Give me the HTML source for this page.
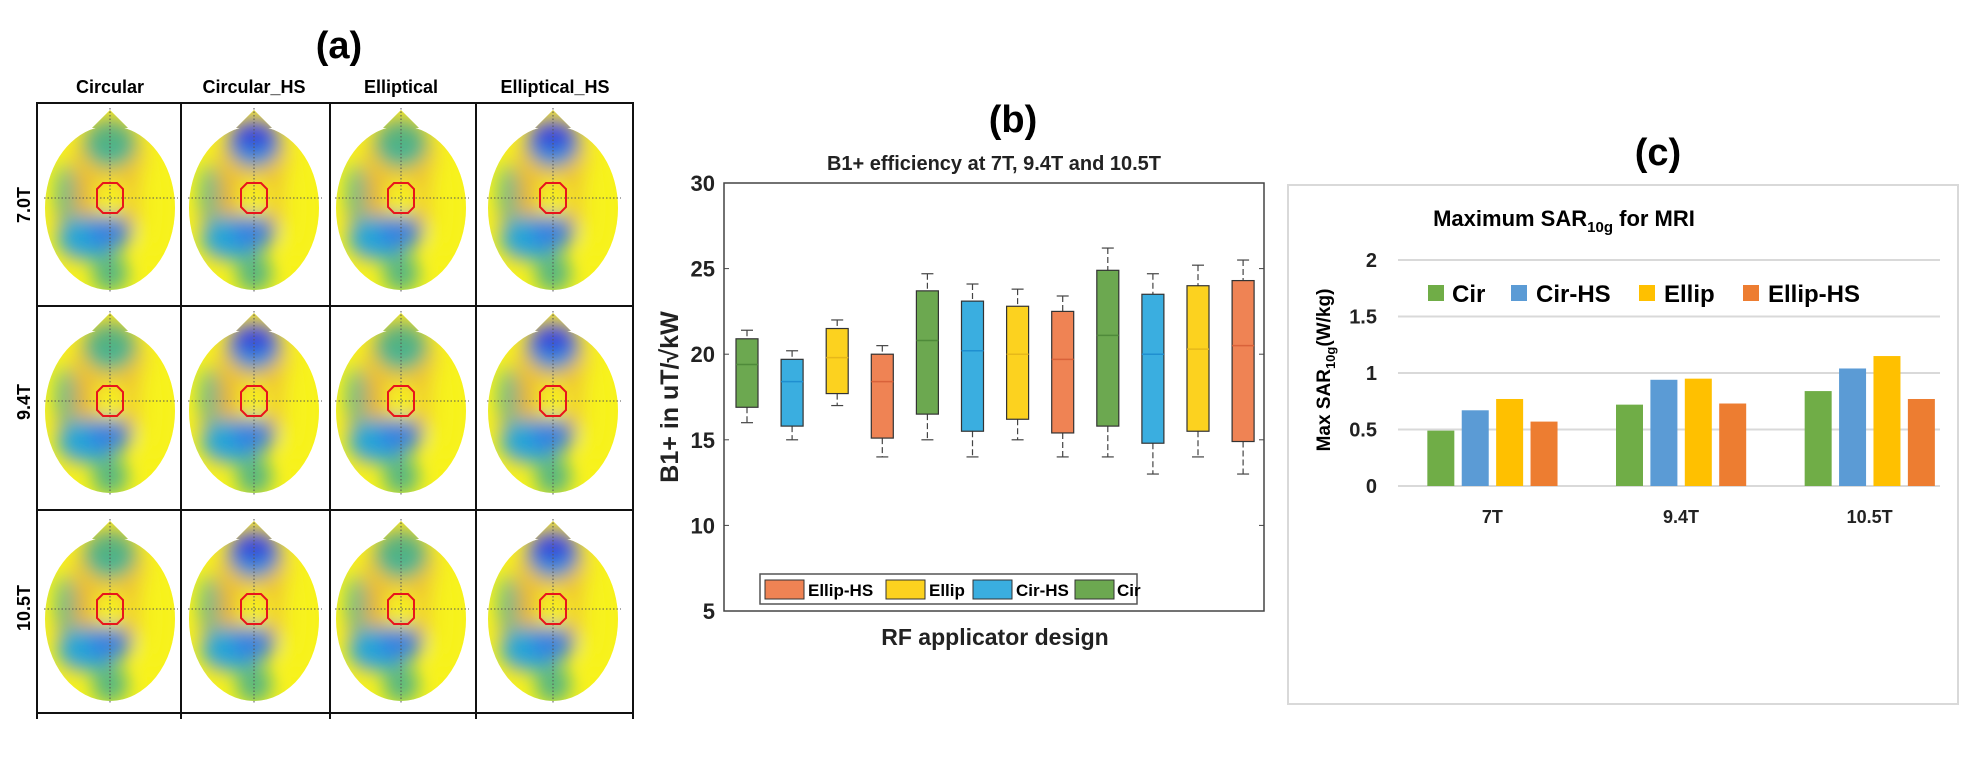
<!DOCTYPE html>
<html><head><meta charset="utf-8"><style>
html,body{margin:0;padding:0;background:#fff;}
svg{display:block;font-family:"Liberation Sans",sans-serif;}
</style></head><body>
<svg id="fig" width="1986" height="769" viewBox="0 0 1986 769" xmlns="http://www.w3.org/2000/svg">
<defs>
<filter id="blur" x="-50%" y="-50%" width="200%" height="200%"><feGaussianBlur stdDeviation="9"/></filter>
</defs>
<!-- Panel A -->
<g id="panelA">
<text x="339" y="58" font-size="38" font-weight="bold" text-anchor="middle">(a)</text>
<text x="110" y="93" font-size="18" font-weight="bold" text-anchor="middle">Circular</text>
<text x="254" y="93" font-size="18" font-weight="bold" text-anchor="middle">Circular_HS</text>
<text x="401" y="93" font-size="18" font-weight="bold" text-anchor="middle">Elliptical</text>
<text x="555" y="93" font-size="18" font-weight="bold" text-anchor="middle">Elliptical_HS</text>
<text transform="translate(30,205) rotate(-90)" font-size="18" font-weight="bold" text-anchor="middle">7.0T</text>
<text transform="translate(30,402) rotate(-90)" font-size="18" font-weight="bold" text-anchor="middle">9.4T</text>
<text transform="translate(30,608) rotate(-90)" font-size="18" font-weight="bold" text-anchor="middle">10.5T</text>
<g id="heads"></g>
<g stroke="#111" stroke-width="2" fill="none">
<rect x="37" y="103" width="596" height="610"/>
<line x1="181" y1="103" x2="181" y2="719"/><line x1="330" y1="103" x2="330" y2="719"/><line x1="476" y1="103" x2="476" y2="719"/>
<line x1="37" y1="306" x2="633" y2="306"/><line x1="37" y1="510" x2="633" y2="510"/>
<line x1="37" y1="713" x2="37" y2="719"/><line x1="633" y1="713" x2="633" y2="719"/>
</g>
</g>
<!-- Panel B -->
<g id="panelB">
<text x="1013" y="132" font-size="38" font-weight="bold" text-anchor="middle">(b)</text>
<text x="994" y="170" font-size="20" font-weight="bold" text-anchor="middle" fill="#222">B1+ efficiency at 7T, 9.4T and 10.5T</text>
<rect x="724" y="183" width="540" height="428" fill="#fff" stroke="#444" stroke-width="1.5"/>
<g id="bTicks"></g>
<g id="bBoxes"></g>
<text transform="translate(678,397) rotate(-90)" font-size="25" font-weight="bold" text-anchor="middle" fill="#222">B1+ in  uT/√kW</text>
<text x="995" y="645" font-size="23" font-weight="bold" text-anchor="middle" fill="#222">RF applicator design</text>
<g>
<rect x="760" y="574" width="377" height="30" fill="#fff" stroke="#555" stroke-width="1.5"/>
<rect x="765" y="580" width="39" height="19" fill="#ef8354" stroke="#333"/>
<text x="808" y="596" font-size="17" font-weight="bold">Ellip-HS</text>
<rect x="886" y="580" width="39" height="19" fill="#fcd21f" stroke="#333"/>
<text x="929" y="596" font-size="17" font-weight="bold">Ellip</text>
<rect x="973" y="580" width="39" height="19" fill="#3aaee0" stroke="#333"/>
<text x="1016" y="596" font-size="17" font-weight="bold">Cir-HS</text>
<rect x="1075" y="580" width="39" height="19" fill="#6ca850" stroke="#333"/>
<text x="1117" y="596" font-size="17" font-weight="bold">Cir</text>
</g>
</g>
<!-- Panel C -->
<g id="panelC">
<text x="1658" y="165" font-size="38" font-weight="bold" text-anchor="middle">(c)</text>
<rect x="1288" y="185" width="670" height="519" fill="#fff" stroke="#d9d9d9" stroke-width="2"/>
<text x="1564" y="226" font-size="22" font-weight="bold" text-anchor="middle">Maximum SAR<tspan font-size="15" dy="6">10g</tspan><tspan dy="-6"> for MRI</tspan></text>
<g id="cGrid"></g>
<g id="cBars"></g>
<text transform="translate(1330,370) rotate(-90)" font-size="19" font-weight="bold" text-anchor="middle">Max  SAR<tspan font-size="13" dy="5">10g</tspan><tspan dy="-5">(W/kg)</tspan></text>
<g>
<rect x="1428" y="285" width="16" height="16" fill="#70ad47"/>
<text x="1452" y="302" font-size="24" font-weight="bold">Cir</text>
<rect x="1511" y="285" width="16" height="16" fill="#5b9bd5"/>
<text x="1536" y="302" font-size="24" font-weight="bold">Cir-HS</text>
<rect x="1639" y="285" width="16" height="16" fill="#ffc000"/>
<text x="1664" y="302" font-size="24" font-weight="bold">Ellip</text>
<rect x="1743" y="285" width="16" height="16" fill="#ed7d31"/>
<text x="1768" y="302" font-size="24" font-weight="bold">Ellip-HS</text>
</g>
</g>
</svg>
<script>
// ---- Panel B data ----
const bCategories = ["Cir 7T","Cir-HS 7T","Ellip 7T","Ellip-HS 7T","Cir 9.4T","Cir-HS 9.4T","Ellip 9.4T","Ellip-HS 9.4T","Cir 10.5T","Cir-HS 10.5T","Ellip 10.5T","Ellip-HS 10.5T"];
const bDesign = ["Cir","Cir-HS","Ellip","Ellip-HS","Cir","Cir-HS","Ellip","Ellip-HS","Cir","Cir-HS","Ellip","Ellip-HS"];
const bWhiskerHigh = [21.4,20.2,22.0,20.5,24.7,24.1,23.8,23.4,26.2,24.7,25.2,25.5];
const bQ3 = [20.9,19.7,21.5,20.0,23.7,23.1,22.8,22.5,24.9,23.5,24.0,24.3];
const bMedian = [19.4,18.4,19.8,18.4,20.8,20.2,20.0,19.7,21.1,20.0,20.3,20.5];
const bQ1 = [16.9,15.8,17.7,15.1,16.5,15.5,16.2,15.4,15.8,14.8,15.5,14.9];
const bWhiskerLow = [16,15,17,14,15,14,15,14,14,13,14,13];
const bTickValues = [5,10,15,20,25,30];
// ---- Panel C data ----
const cCategories = ["7T","9.4T","10.5T"];
const cSeriesNames = ["Cir","Cir-HS","Ellip","Ellip-HS"];
const cCir = [0.49,0.72,0.84];
const cCirHS = [0.67,0.94,1.04];
const cEllip = [0.77,0.95,1.15];
const cEllipHS = [0.57,0.73,0.77];
const cTickValues = [0,0.5,1,1.5,2];
const cTickLabels = ["0","0.5","1","1.5","2"];

const NS="http://www.w3.org/2000/svg";
function mk(tag,attrs,parent){const e=document.createElementNS(NS,tag);for(const k in attrs)e.setAttribute(k,attrs[k]);parent.appendChild(e);return e;}

// Panel B scales
const bTop=183,bBot=611,bMin=5,bMax=30,bLeft=724,bRight=1264;
function by(v){return bBot-(v-bMin)/(bMax-bMin)*(bBot-bTop);}
function bx(i){return 747+i*45.1;}
const bFill={"Cir":"#6ca850","Cir-HS":"#3aaee0","Ellip":"#fcd21f","Ellip-HS":"#ef8354"};
const bMed={"Cir":"#4f8a3a","Cir-HS":"#1f8fd0","Ellip":"#e6b81a","Ellip-HS":"#d9623a"};
const bt=document.getElementById('bTicks');
bTickValues.forEach(v=>{
  const t=mk('text',{x:715,y:by(v)+8,'font-size':22,'font-weight':'bold','text-anchor':'end',fill:'#222'},bt);
  t.textContent=v;
  
  
  const l=mk('line',{x1:bLeft,x2:bLeft+5,y1:by(v),y2:by(v),stroke:'#444','stroke-width':1},bt);
  
  
  const r=mk('line',{x1:bRight-5,x2:bRight,y1:by(v),y2:by(v),stroke:'#444','stroke-width':1},bt);
  
  
});
const bb=document.getElementById('bBoxes');
bCategories.forEach((c,i)=>{
  const g=mk('g',{},bb);
  
  
  const cx=bx(i),w=22,d=bDesign[i];
  mk('line',{x1:cx,x2:cx,y1:by(bWhiskerHigh[i]),y2:by(bQ3[i]),stroke:'#444','stroke-width':1.2,'stroke-dasharray':'6,3'},g);
  mk('line',{x1:cx,x2:cx,y1:by(bQ1[i]),y2:by(bWhiskerLow[i]),stroke:'#444','stroke-width':1.2,'stroke-dasharray':'6,3'},g);
  mk('line',{x1:cx-6,x2:cx+6,y1:by(bWhiskerHigh[i]),y2:by(bWhiskerHigh[i]),stroke:'#444','stroke-width':1.2},g);
  mk('line',{x1:cx-6,x2:cx+6,y1:by(bWhiskerLow[i]),y2:by(bWhiskerLow[i]),stroke:'#444','stroke-width':1.2},g);
  mk('rect',{x:cx-w/2,y:by(bQ3[i]),width:w,height:by(bQ1[i])-by(bQ3[i]),fill:bFill[d],stroke:'#333','stroke-width':1.2},g);
  mk('line',{x1:cx-w/2,x2:cx+w/2,y1:by(bMedian[i]),y2:by(bMedian[i]),stroke:bMed[d],'stroke-width':1.5},g);
});

// Panel C scales
const cZero=486,cPerUnit=113,cLeft=1398,cRight=1964,cGridEnd=1940;
function cy(v){return cZero-v*cPerUnit;}
const cBand=(cRight-cLeft)/cCategories.length;
const cg=document.getElementById('cGrid');
cTickValues.forEach((v,i)=>{
  const l=mk('line',{x1:cLeft,x2:cGridEnd,y1:cy(v),y2:cy(v),stroke:'#d9d9d9','stroke-width':2},cg);
  
  
  const t=mk('text',{x:1377,y:cy(v)+7,'font-size':20,'text-anchor':'end',fill:'#222','font-weight':'bold'},cg);
  t.textContent=cTickLabels[i];
  
  
});
const cSeries=[cCir,cCirHS,cEllip,cEllipHS];
const cColors=["#70ad47","#5b9bd5","#ffc000","#ed7d31"];
const cbars=document.getElementById('cBars');
cCategories.forEach((c,ci)=>{
  const center=cLeft+cBand*(ci+0.5);
  const t=mk('text',{x:center,y:523,'font-size':18,'font-weight':'bold','text-anchor':'middle',fill:'#222'},cbars);
  t.textContent=c;
  
  
  cSeries.forEach((s,si)=>{
    const x=center-65+si*34.4;
    const r=mk('rect',{x:x,y:cy(s[ci]),width:27,height:cZero-cy(s[ci]),fill:cColors[si]},cbars);
    
    
  });
});

// Panel A heads
const headCols=[110,254,401,553];
const headRows=[198,401,609];
const heads=document.getElementById('heads');
let hid=0;
headRows.forEach((ry,r)=>{headCols.forEach((rx,c)=>{
  hid++;
  const hs=(c%2===1);
  const g=mk('g',{},heads);
  
  
  const cp=mk('clipPath',{id:'cp'+hid},g);
  mk('ellipse',{cx:rx,cy:ry+10,rx:65,ry:82},cp);
  mk('polygon',{points:`${rx-18},${ry-70} ${rx},${ry-88} ${rx+18},${ry-70}`},cp);
  const inner=mk('g',{'clip-path':`url(#cp${hid})`},g);
  mk('rect',{x:rx-70,y:ry-95,width:140,height:190,fill:'#f7f21c'},inner);
  const bl=mk('g',{filter:'url(#blur)'},inner);
  const blobs=[
    [0,-20,40,65,'#e9a83e',0.6],
    [-35,20,20,45,'#e2a540',0.6],
    [0,-55,26,24,hs?'#2f8fe0':'#3fb39a',1],
    [0,-62,22,14,hs?'#3a45d8':'#57b27d',1],
    [-25,40,28,22,'#27a6d6',1],
    [0,35,22,18,'#3480e6',0.9],
    [-45,-5,10,30,'#37b2b0',0.7],
    [0,75,18,20,'#48b18a',0.9],
    [45,10,16,55,'#f7f21c',1],
    [0,0,16,16,'#f7f21c',1]
  ];
  blobs.forEach(b=>mk('ellipse',{cx:rx+b[0],cy:ry+b[1],rx:b[2],ry:b[3],fill:b[4],opacity:b[5]},bl));
  mk('line',{x1:rx-66,x2:rx+68,y1:ry,y2:ry,stroke:'#555','stroke-width':1,'stroke-dasharray':'1.5,2'},g);
  mk('line',{x1:rx,x2:rx,y1:ry-90,y2:ry+95,stroke:'#555','stroke-width':1,'stroke-dasharray':'1.5,2'},g);
  const o=13,k=6;
  mk('polygon',{points:`${rx-o+k},${ry-o-2} ${rx+o-k},${ry-o-2} ${rx+o},${ry-o+k-2} ${rx+o},${ry+o-k+2} ${rx+o-k},${ry+o+2} ${rx-o+k},${ry+o+2} ${rx-o},${ry+o-k+2} ${rx-o},${ry-o+k-2}`,fill:'none',stroke:'#e8141b','stroke-width':2},g);
});});
</script>
</body></html>
